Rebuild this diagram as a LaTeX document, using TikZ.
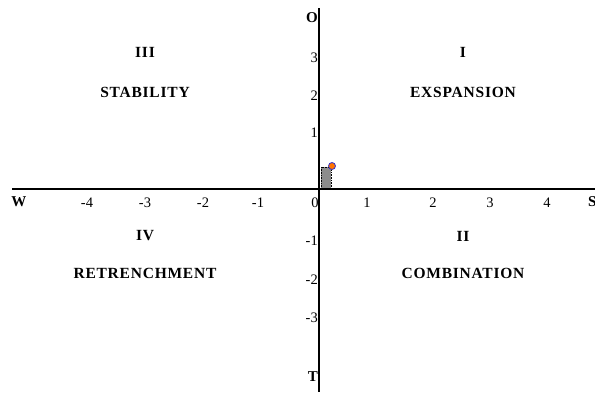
\documentclass[tikz,border=0pt]{standalone}
\usepackage{fontspec}
\setmainfont{Liberation Serif}
\newfontfamily\spaced[LetterSpace=5]{Liberation Serif}
\begin{document}
\begin{tikzpicture}[x=1pt,y=-1pt,
  axis/.style={line width=1.8pt,black},
  tick/.style={font=\fontsize{14.5}{15}\selectfont,inner sep=0pt},
  ytick/.style={tick,anchor=east},
  dirlbl/.style={font=\bfseries\fontsize{15}{16}\selectfont,inner sep=0pt},
  quad/.style={font=\spaced\bfseries\fontsize{15.5}{17}\selectfont,inner sep=0pt}]
\useasboundingbox (0,0) rectangle (595,392);
\coordinate (yt) at (319,8);
\coordinate (yb) at (319,392);
\coordinate (xl) at (12,189);
\coordinate (xr) at (595,189);
\draw[axis] (yt) -- (yb);
\draw[axis] (xl) -- (xr);
% x labels
\node[dirlbl] (W) at (19,202) {W};
\node[tick] (xm4) at (87,203) {-4};
\node[tick] (xm3) at (145,203) {-3};
\node[tick] (xm2) at (203,203) {-2};
\node[tick] (xm1) at (258,203) {-1};
\node[tick] (x0) at (315,203) {0};
\node[tick] (x1) at (367,203) {1};
\node[tick] (x2) at (433,203) {2};
\node[tick] (x3) at (490,203) {3};
\node[tick] (x4) at (547,203) {4};
\node[dirlbl,anchor=west] (S) at (588,202) {S};
% y labels
\node[dirlbl,anchor=east] (O) at (318,18) {O};
\node[ytick] (y3) at (318,58) {3};
\node[ytick] (y2) at (318,96) {2};
\node[ytick] (y1) at (318,133) {1};
\node[ytick] (ym1) at (318,241) {-1};
\node[ytick] (ym2) at (318,280) {-2};
\node[ytick] (ym3) at (318,318) {-3};
\node[dirlbl,anchor=east] (T) at (318,377) {T};
% quadrants
\node[quad] (q3) at (145,52) {III};
\node[quad] (q3t) at (145,92) {STABILITY};
\node[quad] (q1) at (463,52) {I};
\node[quad] (q1t) at (463,92) {EXSPANSION};
\node[quad] (q4) at (145,236) {IV};
\node[quad] (q4t) at (145,273) {RETRENCHMENT};
\node[quad] (q2) at (463,236) {II};
\node[quad] (q2t) at (463,273) {COMBINATION};
% marker
\draw[fill=gray!90,draw=black,densely dotted,line width=0.6pt] (321,167) rectangle (331,188);
\node[circle,fill=orange!90!red,draw=blue!60!gray,line width=0.8pt,minimum size=7pt,inner sep=0pt] (pt) at (332,166) {};
\end{tikzpicture}
\end{document}
